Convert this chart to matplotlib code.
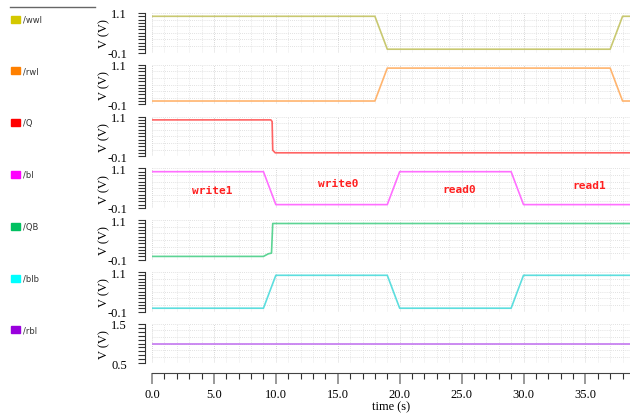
import numpy as np
import matplotlib
matplotlib.use("Agg")
import matplotlib.pyplot as plt
from matplotlib.ticker import MultipleLocator, FixedLocator

# piecewise-linear waveforms: breakpoint times (s) and voltages (V)
wwl_t = [0.0, 18.0, 19.0, 37.0, 38.0, 38.6]
wwl_v = [1.0, 1.0, 0.0, 0.0, 1.0, 1.0]
rwl_t = [0.0, 18.0, 19.0, 37.0, 38.0, 38.6]
rwl_v = [0.0, 0.0, 1.0, 1.0, 0.0, 0.0]
q_t = [0.0, 9.6, 9.7, 9.75, 9.95, 38.6]
q_v = [1.0, 1.0, 0.95, 0.08, 0.0, 0.0]
bl_t = [0.0, 9.0, 10.0, 19.0, 20.0, 29.0, 30.0, 38.6]
bl_v = [1.0, 1.0, 0.0, 0.0, 1.0, 1.0, 0.0, 0.0]
qb_t = [0.0, 9.0, 9.4, 9.65, 9.75, 38.6]
qb_v = [0.0, 0.0, 0.08, 0.1, 1.0, 1.0]
blb_t = [0.0, 9.0, 10.0, 19.0, 20.0, 29.0, 30.0, 38.6]
blb_v = [0.0, 0.0, 1.0, 1.0, 0.0, 0.0, 1.0, 1.0]
rbl_t = [0.0, 38.6]
rbl_v = [1.0, 1.0]

names = ["/wwl", "/rwl", "/Q", "/bl", "/QB", "/blb", "/rbl"]
times = [wwl_t, rwl_t, q_t, bl_t, qb_t, blb_t, rbl_t]
volts = [wwl_v, rwl_v, q_v, bl_v, qb_v, blb_v, rbl_v]
swatch = ["#d4c800", "#ff8000", "#ff0000", "#ff00ff", "#00c060", "#00ffff", "#9900dd"]
trace = ["#c8c870", "#ffb46e", "#ff6464", "#ff6eff", "#5cd494", "#5cdede", "#c478f0"]
ylims = [(-0.1, 1.1)] * 6 + [(0.5, 1.5)]

phase_text = ["write1", "write0", "read0", "read1"]
phase_x = [4.9, 15.0, 24.8, 35.3]
phase_y = [0.45, 0.66, 0.47, 0.6]

W, H = 630, 414
fig = plt.figure(figsize=(W / 100, H / 100), dpi=100)
serif = "Liberation Serif"

left, right = 152, 630
top0, step, ph = 14, 51.8, 39.5
axes = []
for i in range(7):
    top = top0 + i * step
    ax = fig.add_axes([left / W, 1 - (top + ph) / H, (right - left) / W, ph / H])
    axes.append(ax)
    lo, hi = ylims[i]
    ax.set_xlim(0, 38.6)
    ax.set_ylim(lo, hi)
    ax.plot(times[i], volts[i], color=trace[i], lw=1.2, zorder=3)

    # dotted background grid
    for gx in np.arange(0, 39, 1.0):
        c = "#c8c8c8" if gx % 5 == 0 else "#e0e0e0"
        ax.axvline(gx, color=c, lw=0.6, ls=(0, (1, 1.5)), zorder=1)
    for gy in np.linspace(lo, hi, 7):
        ax.axhline(gy, color="#d8d8d8", lw=0.6, ls=(0, (1, 1.5)), zorder=1)

    for s in ["top", "right", "bottom"]:
        ax.spines[s].set_visible(False)
    ax.spines["left"].set_position(("outward", 5))
    ax.spines["left"].set_color("#333333")
    ax.spines["left"].set_bounds(lo, hi)
    ax.yaxis.set_major_locator(FixedLocator([hi, lo]))
    ax.yaxis.set_minor_locator(MultipleLocator(0.1))
    ax.set_yticklabels([f"{hi:.1f}", f"{lo:.1f}"], fontfamily=serif, fontsize=9)
    ax.tick_params(axis="y", which="major", length=5, width=0.8, pad=8, color="#333333")
    ax.tick_params(axis="y", which="minor", length=5, width=0.8, color="#333333")
    ax.set_ylabel("V (V)", fontfamily=serif, fontsize=9)
    ax.yaxis.set_label_coords(-0.088, 0.5)

    if i < 6:
        ax.set_xticks([])
    else:
        ax.spines["bottom"].set_visible(True)
        ax.spines["bottom"].set_position(("outward", 7))
        ax.spines["bottom"].set_color("#444444")
        ax.xaxis.set_major_locator(MultipleLocator(5))
        ax.xaxis.set_minor_locator(MultipleLocator(1))
        ax.set_xticklabels([f"{v:.1f}" for v in ax.get_xticks()], fontfamily=serif, fontsize=9)
        ax.tick_params(axis="x", which="major", length=8, width=1.2, color="#888888", pad=3)
        ax.tick_params(axis="x", which="minor", length=4, width=0.8, color="#333333")
        ax.set_xlabel("time (s)", fontfamily=serif, fontsize=9, labelpad=0)

    # legend entry on the left
    ly = 1 - (top + 6) / H
    fig.patches.append(plt.Rectangle((11 / W, ly - 3.5 / H), 9 / W, 7 / H,
                                     transform=fig.transFigure, color=swatch[i]))
    fig.text(23 / W, ly, names[i], fontsize=6, va="center", ha="left", color="#333333",
             fontfamily="DejaVu Sans")

for txt, x, y in zip(phase_text, phase_x, phase_y):
    axes[3].text(x, y, txt, color="#ff2020", fontsize=8, fontweight="bold",
                 fontfamily="DejaVu Sans Mono", ha="center", va="center", zorder=4)

fig.add_artist(plt.Line2D([10 / W, 95 / W], [1 - 8 / H, 1 - 8 / H], color="#666666", lw=1,
                          transform=fig.transFigure))

fig.savefig("out.png", dpi=100)
